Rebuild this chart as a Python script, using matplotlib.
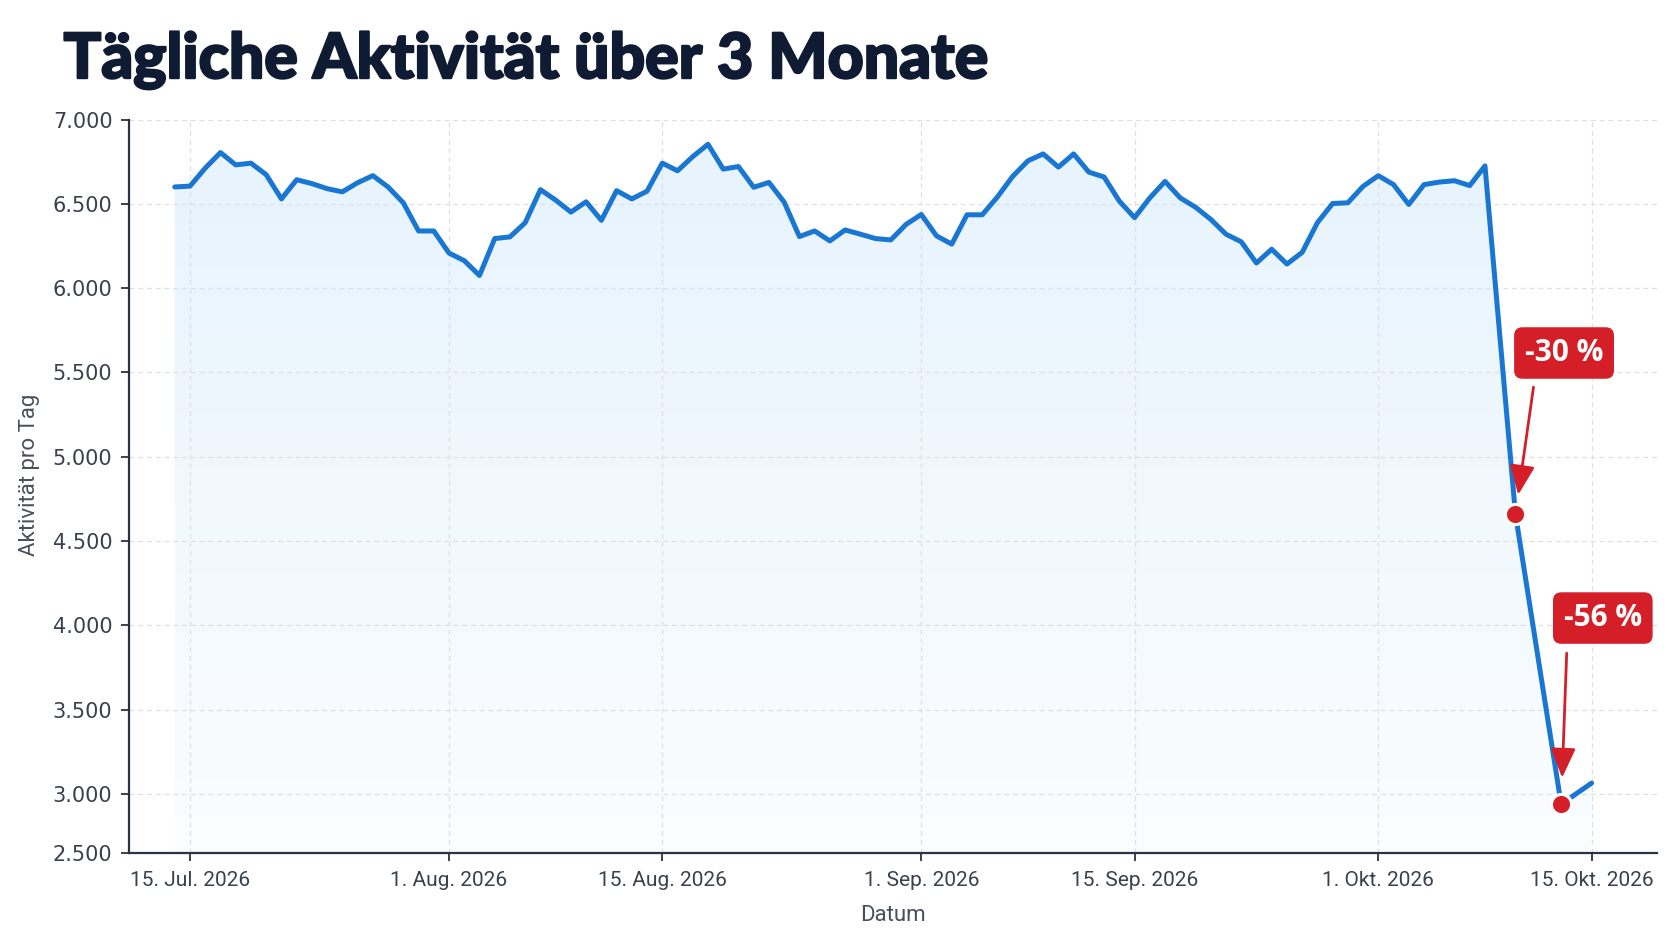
import numpy as np
import pandas as pd
import matplotlib
matplotlib.use("Agg")
import matplotlib.pyplot as plt
import matplotlib.dates as mdates
import matplotlib.patheffects as pe
from matplotlib.colors import LinearSegmentedColormap

# daily activity 14 Jul - 8 Okt 2026
start_date = "2026-07-14"
daily_values = [
    6600, 6605, 6712, 6804, 6731, 6741, 6673, 6529, 6643, 6620,
    6590, 6571, 6625, 6667, 6600, 6506, 6339, 6339, 6208, 6163,
    6075, 6294, 6304, 6388, 6584, 6522, 6451, 6512, 6402, 6578,
    6529, 6575, 6741, 6696, 6780, 6853, 6706, 6721, 6598, 6627,
    6510, 6306, 6339, 6280, 6345, 6320, 6294, 6286, 6378, 6437,
    6310, 6261, 6435, 6435, 6541, 6663, 6755, 6796, 6718, 6796,
    6688, 6659, 6516, 6418, 6535, 6633, 6535, 6480, 6408, 6320,
    6275, 6149, 6231, 6143, 6212, 6388, 6502, 6506, 6604, 6667,
    6614, 6496, 6614, 6629, 6637, 6608, 6725,
]
# the drop at the end
tail_dates = ["2026-10-10", "2026-10-13", "2026-10-15"]
tail_values = [4660, 2940, 3065]

drop_dates = ["2026-10-10", "2026-10-13"]
drop_values = [4660, 2940]
drop_labels = ["-30 %", "-56 %"]

tick_dates = ["2026-07-15", "2026-08-01", "2026-08-15", "2026-09-01",
              "2026-09-15", "2026-10-01", "2026-10-15"]
tick_labels = ["15. Jul. 2026", "1. Aug. 2026", "15. Aug. 2026", "1. Sep. 2026",
               "15. Sep. 2026", "1. Okt. 2026", "15. Okt. 2026"]
y_ticks = [3000, 3500, 4000, 4500, 5000, 5500, 6000, 6500, 7000]

dates = list(pd.date_range(start_date, periods=len(daily_values), freq="D")) + list(pd.to_datetime(tail_dates))
values = daily_values + tail_values

blue = "#1976d2"
red = "#d51f28"
dark = "#2a3340"
y_bottom = 2652
y_top = 7000

fig = plt.figure(figsize=(16.72, 9.41), dpi=100)
ax = fig.add_axes([0.0772, 0.0938, 0.9139, 0.7792])

x0 = pd.Timestamp(start_date) - pd.Timedelta(days=3.0)
x1 = pd.Timestamp(start_date) + pd.Timedelta(days=97.3)

# gradient fill under the line
poly = ax.fill_between(dates, values, y_bottom, color="none", lw=0)
grad = np.linspace(0, 1, 256).reshape(-1, 1)
cmap = LinearSegmentedColormap.from_list("fade", ["#fbfdff", "#e6f3fd"])
im = ax.imshow(grad, cmap=cmap, aspect="auto", origin="lower", zorder=1,
               extent=[mdates.date2num(x0), mdates.date2num(x1), y_bottom, y_top])
im.set_clip_path(poly.get_paths()[0], transform=ax.transData)

ax.plot(dates, values, color=blue, lw=3.6, solid_joinstyle="round",
        solid_capstyle="round", zorder=3)

drop_x = pd.to_datetime(drop_dates)
ax.plot(drop_x, drop_values, "o", ms=14.5, color=red, mec="white", mew=2.2,
        zorder=4, linestyle="none")

tail_off = [(13.0, 91.4), (4.0, 108.7)]
shrink_b = [14, 19]
box_off = [(35, 116), (30, 134)]
for d, v, lab, t, s, b in zip(drop_x, drop_values, drop_labels, tail_off, shrink_b, box_off):
    ax.annotate("", xy=(d, v), xytext=t, textcoords="offset points",
                arrowprops=dict(arrowstyle="-|>,head_width=0.38,head_length=0.9",
                                color=red, lw=2.0, shrinkA=0, shrinkB=s,
                                mutation_scale=20), zorder=5)
    ax.annotate(lab, xy=(d, v), xytext=b, textcoords="offset points",
                ha="center", va="center", color="white", fontsize=21.5,
                fontweight="bold", family="Open Sans", zorder=6,
                annotation_clip=False,
                bbox=dict(boxstyle="round,pad=0.36,rounding_size=0.28",
                          fc=red, ec="none"))

ax.set_xlim(x0, x1)
ax.set_ylim(y_bottom, y_top)

ax.set_xticks(pd.to_datetime(tick_dates))
ax.set_xticklabels(tick_labels, family="Roboto", fontsize=15, color="#3a414c")
ax.set_yticks([y_bottom] + y_ticks)
ax.set_yticklabels(["2.500"] + [f"{t:,}".replace(",", ".") for t in y_ticks],
                   family="DejaVu Sans", fontsize=15, color="#3a414c")

ax.grid(True, color="#dde1e7", lw=0.9, linestyle=(0, (4, 3)))
ax.set_axisbelow("line")
for side in ["top", "right"]:
    ax.spines[side].set_visible(False)
for side in ["left", "bottom"]:
    ax.spines[side].set_color(dark)
    ax.spines[side].set_linewidth(1.6)
ax.tick_params(axis="both", colors=dark, length=6, width=1.3, labelcolor="#3a414c")
ax.tick_params(axis="x", pad=7)
ax.tick_params(axis="y", pad=6)

ax.set_xlabel("Datum", family="Roboto", fontsize=16, color="#4a505b")
ax.xaxis.set_label_coords(0.5, -0.071)
ax.set_ylabel("Aktivität pro Tag", family="Roboto", fontsize=16, color="#4a505b")
ax.yaxis.set_label_coords(-0.058, 0.516)

fig.text(0.038, 0.917, "Tägliche Aktivität über 3 Monate", family="Lato",
         fontweight="black", fontsize=45, color="#0f1a33", va="baseline",
         path_effects=[pe.withStroke(linewidth=1.6, foreground="#0f1a33")])

fig.savefig("out.png", dpi=100, facecolor="white")
